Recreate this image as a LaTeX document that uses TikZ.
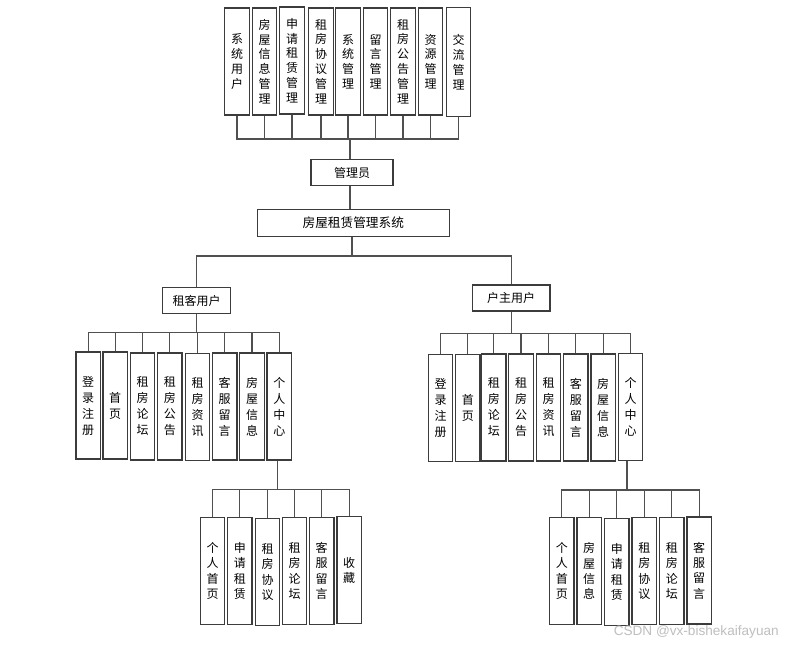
\documentclass[tikz,border=0pt]{standalone}
\usepackage{fontspec}
\setmainfont{Noto Sans CJK SC}
\newfontfamily\wmfont{Liberation Sans}
\definecolor{boxc}{HTML}{3C3C3C}
\definecolor{linec}{HTML}{505050}
\begin{document}
\begin{tikzpicture}[x=0.75pt,y=-0.75pt,
  box/.style={draw=boxc, line width=0.9pt, fill=white, inner sep=0pt, align=center, font=\fontsize{9}{11.1}\selectfont},
  vbox/.style={box, minimum width=18.4pt, minimum height=80.25pt},
  midbox/.style={vbox, font=\fontsize{9}{12}\selectfont},
  lowbox/.style={vbox, font=\fontsize{9}{11.5}\selectfont},
  link/.style={draw=linec, line width=0.8pt}]
\fill[white] (0,0) rectangle (791,645);
\useasboundingbox (0,0) rectangle (791,645);
% top row
\node[vbox] (t1) at (237,61.5) {系\\统\\用\\户};
\node[vbox] (t2) at (264.5,61.5) {房\\屋\\信\\息\\管\\理};
\node[vbox] (t3) at (292,60.5) {申\\请\\租\\赁\\管\\理};
\node[vbox] (t4) at (321,61.5) {租\\房\\协\\议\\管\\理};
\node[vbox] (t5) at (348,61.5) {系\\统\\管\\理};
\node[vbox] (t6) at (375.5,61.5) {留\\言\\管\\理};
\node[vbox] (t7) at (403,61.5) {租\\房\\公\\告\\管\\理};
\node[vbox] (t8) at (430.5,61.5) {资\\源\\管\\理};
\node[vbox, minimum height=82pt] (t9) at (458.5,62) {交\\流\\管\\理};
\coordinate (bt) at (350,139);
\draw[link] (t1.south) -- (t1.south |- bt) -- (t9.south |- bt) -- (t9.south);
\foreach \n in {t2,t3,t4,t5,t6,t7,t8} \draw[link] (\n.south) -- (\n.south |- bt);
% admin & system
\node[box, minimum width=61.5pt, minimum height=19.9pt] (admin) at (352,172.5) {管理员};
\node[box, minimum width=144pt, minimum height=20.25pt, font=\fontsize{9.5}{11}\selectfont] (sys) at (353.3,222.7) {房屋租赁管理系统};
\draw[link] (bt) -- (bt |- admin.north);
\draw[link] (bt |- admin.south) -- (bt |- sys.north);
\coordinate (bs) at (352,256);
\node[box, minimum width=51.3pt, minimum height=19.2pt] (tenant) at (196.5,300.5) {租客用户};
\node[box, minimum width=58.3pt, minimum height=19.5pt] (owner) at (511.2,298) {户主用户};
\draw[link] (bs |- sys.south) -- (bs);
\draw[link] (tenant.north) -- (tenant.north |- bs) -- (owner.north |- bs) -- (owner.north);
% left row
\node[midbox] (l1) at (88.2,405.5) {登\\录\\注\\册};
\node[midbox] (l2) at (115.2,405.5) {首\\页};
\node[midbox] (l3) at (142.5,406.5) {租\\房\\论\\坛};
\node[midbox] (l4) at (169.8,406.5) {租\\房\\公\\告};
\node[midbox] (l5) at (197.5,407.3) {租\\房\\资\\讯};
\node[midbox] (l6) at (224.7,406.5) {客\\服\\留\\言};
\node[midbox] (l7) at (252,406.5) {房\\屋\\信\\息};
\node[midbox] (l8) at (279.3,406.5) {个\\人\\中\\心};
\coordinate (bl) at (0,332.5);
\draw[link] (tenant.south) -- (tenant.south |- bl);
\draw[link] (l1.north) -- (l1.north |- bl) -- (l8.north |- bl) -- (l8.north);
\foreach \n in {l2,l3,l4,l5,l6,l7} \draw[link] (\n.north) -- (\n.north |- bl);
% right row
\node[midbox] (r1) at (440.5,408.3) {登\\录\\注\\册};
\node[midbox] (r2) at (467.8,408.3) {首\\页};
\node[midbox] (r3) at (493.8,407.5) {租\\房\\论\\坛};
\node[midbox] (r4) at (521,407.5) {租\\房\\公\\告};
\node[midbox] (r5) at (548.5,407.5) {租\\房\\资\\讯};
\node[midbox] (r6) at (575.8,407.5) {客\\服\\留\\言};
\node[midbox] (r7) at (603.2,407.5) {房\\屋\\信\\息};
\node[midbox] (r8) at (630.5,407.3) {个\\人\\中\\心};
\coordinate (br) at (0,333.5);
\draw[link] (owner.south) -- (owner.south |- br);
\draw[link] (r1.north) -- (r1.north |- br) -- (r8.north |- br) -- (r8.north);
\foreach \n in {r2,r3,r4,r5,r6,r7} \draw[link] (\n.north) -- (\n.north |- br);
% bottom left
\node[lowbox] (lb1) at (212.5,571) {个\\人\\首\\页};
\node[lowbox] (lb2) at (239.8,571) {申\\请\\租\\赁};
\node[lowbox] (lb3) at (267.5,572) {租\\房\\协\\议};
\node[lowbox] (lb4) at (294.5,571) {租\\房\\论\\坛};
\node[lowbox] (lb5) at (321.7,571) {客\\服\\留\\言};
\node[lowbox] (lb6) at (349.2,570.3) {收\\藏};
\coordinate (blb) at (277.5,489.5);
\draw[link] (blb |- l8.south) -- (blb);
\draw[link] (lb1.north) -- (lb1.north |- blb) -- (lb6.north |- blb) -- (lb6.north);
\foreach \n in {lb2,lb3,lb4,lb5} \draw[link] (\n.north) -- (\n.north |- blb);
% bottom right
\node[lowbox] (rb1) at (561.8,571) {个\\人\\首\\页};
\node[lowbox] (rb2) at (589.2,571) {房\\屋\\信\\息};
\node[lowbox] (rb3) at (616.8,572) {申\\请\\租\\赁};
\node[lowbox] (rb4) at (644.3,571) {租\\房\\协\\议};
\node[lowbox] (rb5) at (671.8,571) {租\\房\\论\\坛};
\node[lowbox] (rb6) at (699.2,570.5) {客\\服\\留\\言};
\coordinate (brb) at (627,490);
\draw[link] (brb |- r8.south) -- (brb);
\draw[link] (rb1.north) -- (rb1.north |- brb) -- (rb6.north |- brb) -- (rb6.north);
\foreach \n in {rb2,rb3,rb4,rb5} \draw[link] (\n.north) -- (\n.north |- brb);
% watermark
\node[font=\wmfont\fontsize{10.2}{11}\selectfont, text=black!25, anchor=east, inner sep=0pt] (wm) at (779,632) {CSDN @vx-bishekaifayuan};
\end{tikzpicture}
\end{document}
